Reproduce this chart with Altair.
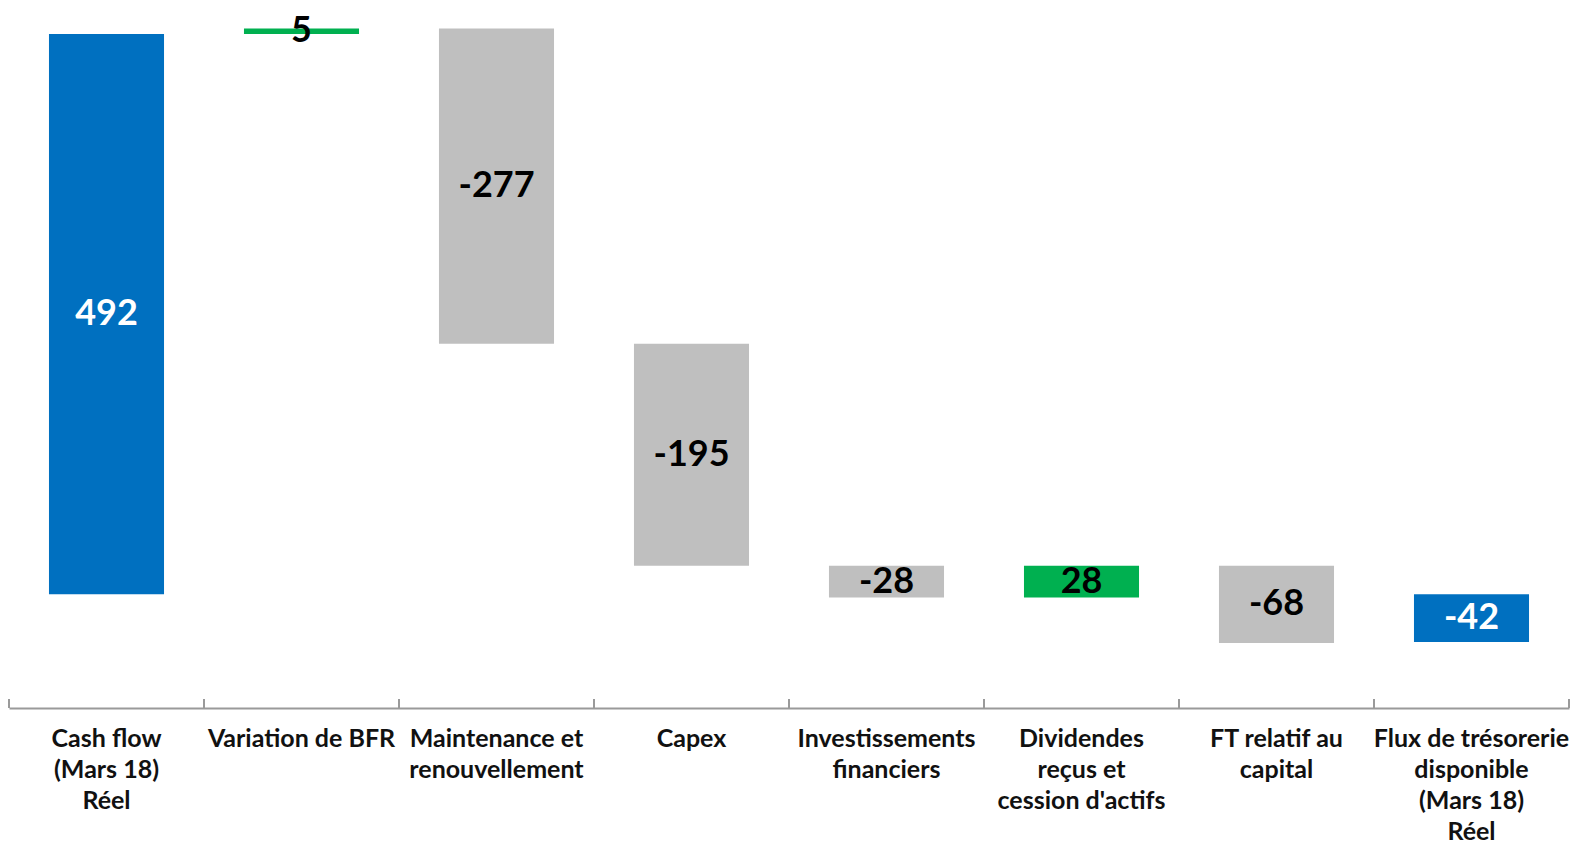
import altair as alt
import pandas as pd

categories = [
    "Cash flow\n(Mars 18)\nRéel",
    "Variation de BFR",
    "Maintenance et\nrenouvellement",
    "Capex",
    "Investissements\nfinanciers",
    "Dividendes\nreçus et\ncession d'actifs",
    "FT relatif au\ncapital",
    "Flux de trésorerie\ndisponible\n(Mars 18)\nRéel",
]
values = [492, 5, -277, -195, -28, 28, -68, -42]
kinds = ["total", "delta", "delta", "delta", "delta", "delta", "delta", "total"]

rows = []
cum = 0
for cat, v, k in zip(categories, values, kinds):
    if k == "total":
        start, end = 0, v
        cum = v
    else:
        start, end = cum, cum + v
        cum = end
    if k == "total":
        kind = "total"
    elif v >= 0:
        kind = "increase"
    else:
        kind = "decrease"
    rows.append({"cat": cat, "start": start, "end": end, "mid": (start + end) / 2,
                 "label": str(v), "kind": kind})
df = pd.DataFrame(rows)

boundaries = pd.DataFrame({"b": list(range(len(categories) + 1))})

FONT = "Lato"
W, H = 1560, 683

xscale = alt.Scale(paddingInner=0.41, paddingOuter=0.205)
xenc = alt.X(
    "cat:N",
    sort=categories,
    scale=xscale,
    axis=alt.Axis(
        title=None,
        domain=True,
        domainColor="#9a9a9a",
        domainWidth=2,
        ticks=False,
        labelAngle=0,
        labelFont=FONT,
        labelFontWeight="bold",
        labelFontSize=25,
        labelColor="#111111",
        labelLineHeight=31,
        labelPadding=18,
        labelLimit=0,
        labelOverlap=False,
        labelBaseline="top",
        labelExpr="split(datum.label, '\\n')",
    ),
)

yscale = alt.Scale(domain=[-100, 500], nice=False, zero=False)

bars = alt.Chart(df).mark_bar().encode(
    x=xenc,
    y=alt.Y("start:Q", scale=yscale, axis=None),
    y2="end:Q",
    color=alt.Color(
        "kind:N",
        scale=alt.Scale(domain=["total", "increase", "decrease"],
                        range=["#0070C0", "#00B050", "#BFBFBF"]),
        legend=None,
    ),
)

text = alt.Chart(df).mark_text(
    font=FONT, fontWeight="bold", fontSize=36, baseline="middle", align="center"
).encode(
    x=alt.X("cat:N", sort=categories),
    y=alt.Y("mid:Q"),
    text="label:N",
    color=alt.Color(
        "kind:N",
        scale=alt.Scale(domain=["total", "increase", "decrease"],
                        range=["#FFFFFF", "#000000", "#000000"]),
        legend=None,
    ),
)

main = alt.layer(bars, text).resolve_scale(color="independent")

ticks = alt.Chart(boundaries).mark_rule(color="#9a9a9a", strokeWidth=2).encode(
    x=alt.X("b:Q", scale=alt.Scale(domain=[0, len(categories)], nice=False, zero=False), axis=None),
    y=alt.value(H),
    y2=alt.value(H - 9),
)

chart = (
    alt.layer(main, ticks)
    .resolve_scale(x="independent")
    .properties(
        width=W,
        height=H,
        padding={"top": 5, "bottom": 2, "left": 0, "right": 0},
    )
    .configure_view(stroke=None)
)

chart.save("out.html", embed_options={"renderer": "svg", "actions": False})
